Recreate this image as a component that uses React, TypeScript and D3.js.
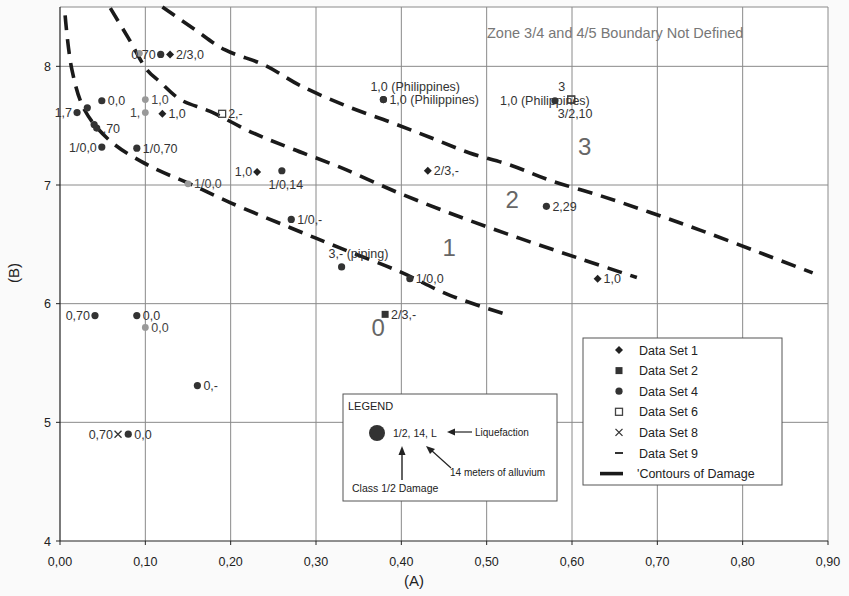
import React, { useEffect } from 'react';
import * as d3 from 'd3';

// tick values
const xTicks = [0, 0.1, 0.2, 0.3, 0.4, 0.5, 0.6, 0.7, 0.8, 0.9];
const yTicks = [4, 5, 6, 7, 8];

// points: a = (A), b = (B), label, where the label sits
const dataSet1 = [
  { a: 0.129, b: 8.1, label: '2/3,0', pos: 'r' },
  { a: 0.12, b: 7.6, label: '1,0', pos: 'r' },
  { a: 0.231, b: 7.11, label: '1,0', pos: 'l' },
  { a: 0.431, b: 7.12, label: '2/3,-', pos: 'r' },
  { a: 0.63, b: 6.21, label: '1,0', pos: 'r' },
];
const dataSet2 = [{ a: 0.381, b: 5.91, label: '2/3,-', pos: 'r' }];
const dataSet4 = [
  { a: 0.118, b: 8.1, label: '0,70', pos: 'l' },
  { a: 0.049, b: 7.71, label: '0,0', pos: 'r' },
  { a: 0.02, b: 7.61, label: '1,7', pos: 'l' },
  { a: 0.032, b: 7.65, label: '', pos: 'r' },
  { a: 0.04, b: 7.51, label: '', pos: 'r' },
  { a: 0.043, b: 7.48, label: ',70', pos: 'r' },
  { a: 0.049, b: 7.32, label: '1/0,0', pos: 'l' },
  { a: 0.09, b: 7.31, label: '1/0,70', pos: 'r' },
  { a: 0.26, b: 7.12, label: '1/0,14', pos: 'b' },
  { a: 0.379, b: 7.72, label: '1,0 (Philippines)', pos: 'r' },
  { a: 0.379, b: 7.72, label: '1,0 (Philippines)', pos: 'tr' },
  { a: 0.271, b: 6.71, label: '1/0,-', pos: 'r' },
  { a: 0.33, b: 6.31, label: '3,- (piping)', pos: 'tr' },
  { a: 0.41, b: 6.21, label: '1/0,0', pos: 'r' },
  { a: 0.57, b: 6.82, label: '2,29', pos: 'r' },
  { a: 0.58, b: 7.71, label: '1,0 (Philippines)', pos: 'c' },
  { a: 0.041, b: 5.9, label: '0,70', pos: 'l' },
  { a: 0.09, b: 5.9, label: '0,0', pos: 'r' },
  { a: 0.161, b: 5.31, label: '0,-', pos: 'r' },
  { a: 0.08, b: 4.9, label: '0,0', pos: 'r' },
];
const dataSet6 = [
  { a: 0.19, b: 7.6, label: '2,-', pos: 'r' },
  { a: 0.599, b: 7.72, label: '3/2,10', pos: 'b' },
  { a: 0.599, b: 7.72, label: '3', pos: 'tr' },
];
const dataSet8 = [{ a: 0.068, b: 4.9, label: '0,70', pos: 'l' }];
const dataSet9 = [
  { a: 0.093, b: 8.11, label: '', pos: 'r' },
  { a: 0.1, b: 7.72, label: '1,0', pos: 'r' },
  { a: 0.1, b: 7.61, label: '1,', pos: 'l' },
  { a: 0.15, b: 7.01, label: '1/0,0', pos: 'r' },
  { a: 0.1, b: 5.8, label: '0,0', pos: 'r' },
];

// contours of damage
const contour01 = [
  [0.006, 8.43], [0.014, 7.97], [0.029, 7.63], [0.059, 7.37], [0.105, 7.16],
  [0.152, 7.01], [0.2, 6.85], [0.27, 6.64], [0.328, 6.47], [0.398, 6.27],
  [0.457, 6.07], [0.527, 5.9],
];
const contour12 = [
  [0.059, 8.49], [0.08, 8.24], [0.102, 7.97], [0.117, 7.87], [0.141, 7.72],
  [0.176, 7.62], [0.226, 7.44], [0.27, 7.31], [0.328, 7.15], [0.398, 6.93],
  [0.469, 6.73], [0.539, 6.55], [0.609, 6.38], [0.676, 6.22],
];
const contour23 = [
  [0.12, 8.5], [0.158, 8.31], [0.193, 8.14], [0.24, 8.01], [0.281, 7.84],
  [0.334, 7.67], [0.387, 7.53], [0.434, 7.4], [0.48, 7.27], [0.527, 7.17],
  [0.574, 7.04], [0.633, 6.91], [0.691, 6.77], [0.75, 6.62], [0.82, 6.43],
  [0.882, 6.26],
];

// zone numbers
const zones = [
  { a: 0.373, b: 5.8, label: '0' },
  { a: 0.456, b: 6.48, label: '1' },
  { a: 0.53, b: 6.88, label: '2' },
  { a: 0.615, b: 7.33, label: '3' },
];

const legendItems = ['Data Set 1', 'Data Set 2', 'Data Set 4', 'Data Set 6', 'Data Set 8', 'Data Set 9', 'Contours of Damage'];

const font = 'Liberation Sans, Arial, sans-serif';

type Pt = { a: number; b: number; label: string; pos: string };

function Marker({ kind, x, y }: { kind: string; x: number; y: number }) {
  if (kind === 'diamond')
    return <path d={`M${x},${y - 4}L${x + 4},${y}L${x},${y + 4}L${x - 4},${y}Z`} fill="#222" />;
  if (kind === 'square') return <rect x={x - 3.5} y={y - 3.5} width={7} height={7} fill="#333" />;
  if (kind === 'circle') return <circle cx={x} cy={y} r={3.6} fill="#333" />;
  if (kind === 'open') return <rect x={x - 3.5} y={y - 3.5} width={7} height={7} fill="none" stroke="#444" strokeWidth={1.3} />;
  if (kind === 'cross')
    return <path d={`M${x - 3.5},${y - 3.5}L${x + 3.5},${y + 3.5}M${x + 3.5},${y - 3.5}L${x - 3.5},${y + 3.5}`} stroke="#333" strokeWidth={1.3} />;
  if (kind === 'gray') return <circle cx={x} cy={y} r={3.4} fill="#999" />;
  return <line x1={x - 4} x2={x + 4} y1={y} y2={y} stroke="#333" strokeWidth={2} />;
}

function Label({ p, x, y, color }: { p: Pt; x: number; y: number; color: string }) {
  if (!p.label) return null;
  let tx = x + 6, ty = y + 4.5, anchor = 'start';
  if (p.pos === 'l') { tx = x - 5; anchor = 'end'; }
  if (p.pos === 'b') { tx = x + 4; ty = y + 18; anchor = 'middle'; }
  if (p.pos === 'tr') { tx = x - 13; ty = y - 9; }
  if (p.pos === 'c') { tx = x - 10; anchor = 'middle'; }
  return (
    <text x={tx} y={ty} textAnchor={anchor} fontSize={12.5} fill={color} fontFamily={font}>
      {p.label}
    </text>
  );
}

export default function App() {
  useEffect(() => {
    document.body.style.margin = '0';
  }, []);

  const width = 849;
  const height = 596;
  const x = d3.scaleLinear().domain([0, 0.9]).range([60, 828]);
  const y = d3.scaleLinear().domain([4, 8.5]).range([541, 7]);

  const line = d3
    .line<number[]>()
    .x(d => x(d[0]))
    .y(d => y(d[1]))
    .curve(d3.curveCatmullRom);

  const series: [Pt[], string, string][] = [
    [dataSet9, 'gray', '#444'],
    [dataSet6, 'open', '#333'],
    [dataSet8, 'cross', '#333'],
    [dataSet4, 'circle', '#333'],
    [dataSet2, 'square', '#333'],
    [dataSet1, 'diamond', '#333'],
  ];
  const legendKinds = ['diamond', 'square', 'circle', 'open', 'cross', 'dash'];

  return (
    <svg width={width} height={height} style={{ display: 'block', background: '#fafafa' }}>
      <rect x={x(0)} y={y(8.5)} width={x(0.9) - x(0)} height={y(4) - y(8.5)} fill="#fff" />

      {/* grid */}
      {xTicks.slice(1).map(t => (
        <line key={'gx' + t} x1={x(t)} x2={x(t)} y1={y(8.5)} y2={y(4)} stroke="#8a8a8a" strokeWidth={1} />
      ))}
      {yTicks.slice(1).map(t => (
        <line key={'gy' + t} x1={x(0)} x2={x(0.9)} y1={y(t)} y2={y(t)} stroke="#8a8a8a" strokeWidth={1} />
      ))}
      <line x1={x(0)} x2={x(0.9)} y1={y(8.5)} y2={y(8.5)} stroke="#8a8a8a" />

      {/* axes */}
      <line x1={x(0)} x2={x(0)} y1={y(8.5)} y2={y(4)} stroke="#222" strokeWidth={1.2} />
      <line x1={x(0)} x2={x(0.9)} y1={y(4)} y2={y(4)} stroke="#222" strokeWidth={1.2} />
      {yTicks.map(t => (
        <g key={'ty' + t}>
          <line x1={x(0) - 4} x2={x(0)} y1={y(t)} y2={y(t)} stroke="#222" />
          <text x={x(0) - 9} y={y(t) + 4.5} textAnchor="end" fontSize={12.5} fill="#222" fontFamily={font}>
            {t}
          </text>
        </g>
      ))}
      {xTicks.map(t => (
        <g key={'tx' + t}>
          <line x1={x(t)} x2={x(t)} y1={y(4)} y2={y(4) + 4} stroke="#222" />
          <text x={x(t)} y={y(4) + 25} textAnchor="middle" fontSize={12.5} fill="#222" fontFamily={font}>
            {t.toFixed(2).replace('.', ',')}
          </text>
        </g>
      ))}
      <text x={414} y={586} textAnchor="middle" fontSize={15} fill="#222" fontFamily={font}>(A)</text>
      <text transform="translate(19,273) rotate(-90)" textAnchor="middle" fontSize={15} fill="#222" fontFamily={font}>(B)</text>

      <text x={487} y={38} fontSize={14.5} fill="#777" fontFamily={font}>Zone 3/4 and 4/5 Boundary Not Defined</text>

      {/* contours */}
      {[contour01, contour12, contour23].map((c, i) => (
        <path key={'c' + i} d={line(c) || ''} fill="none" stroke="#1a1a1a" strokeWidth={3.6} strokeDasharray="15 9" />
      ))}

      {zones.map(z => (
        <text key={'z' + z.label} x={x(z.a)} y={y(z.b) + 9} textAnchor="middle" fontSize={24} fill="#666" fontFamily={font}>
          {z.label}
        </text>
      ))}

      {/* points */}
      {series.map(([pts, kind, color], si) => (
        <g key={'s' + si}>
          {pts.map((p, i) => (
            <g key={i}>
              <Marker kind={kind} x={x(p.a)} y={y(p.b)} />
              <Label p={p} x={x(p.a)} y={y(p.b)} color={color} />
            </g>
          ))}
        </g>
      ))}

      {/* series legend */}
      <rect x={583} y={338} width={199} height={147} fill="#fff" stroke="#555" strokeWidth={1} />
      {legendItems.map((name, i) => {
        const ly = 350 + i * 20.6;
        return (
          <g key={name}>
            {i < 6 ? (
              <Marker kind={legendKinds[i]} x={619} y={ly} />
            ) : (
              <line x1={600} x2={623} y1={ly} y2={ly} stroke="#1a1a1a" strokeWidth={3.6} />
            )}
            <text x={i < 6 ? 639 : 637} y={ly + 4.5} fontSize={12.5} fill="#222" fontFamily={font}>
              {i < 6 ? name : "'" + name}
            </text>
          </g>
        );
      })}

      {/* explanation legend */}
      <rect x={343} y={394} width={214} height={107} fill="#fff" stroke="#555" strokeWidth={1} />
      <text x={348} y={410} fontSize={11} fill="#222" fontFamily={font}>LEGEND</text>
      <circle cx={377} cy={433} r={8} fill="#333" />
      <text x={393} y={437} fontSize={10.5} fill="#222" fontFamily={font}>1/2, 14, L</text>
      <line x1={472} x2={452} y1={432} y2={432} stroke="#222" strokeWidth={1.2} />
      <path d="M447,432L455,428.5L455,435.5Z" fill="#222" />
      <text x={475} y={436} fontSize={10} fill="#222" fontFamily={font}>Liquefaction</text>
      <line x1={402} x2={402} y1={480} y2={452} stroke="#222" strokeWidth={1.4} />
      <path d="M402,446L398.5,455L405.5,455Z" fill="#222" />
      <text x={352} y={492} fontSize={10.5} fill="#222" fontFamily={font}>Class 1/2 Damage</text>
      <line x1={451} x2={431} y1={468} y2={450} stroke="#222" strokeWidth={1.2} />
      <path d="M426,446L435,449L430,454Z" fill="#222" />
      <text x={450} y={476} fontSize={10} fill="#222" fontFamily={font}>14 meters of alluvium</text>
    </svg>
  );
}
